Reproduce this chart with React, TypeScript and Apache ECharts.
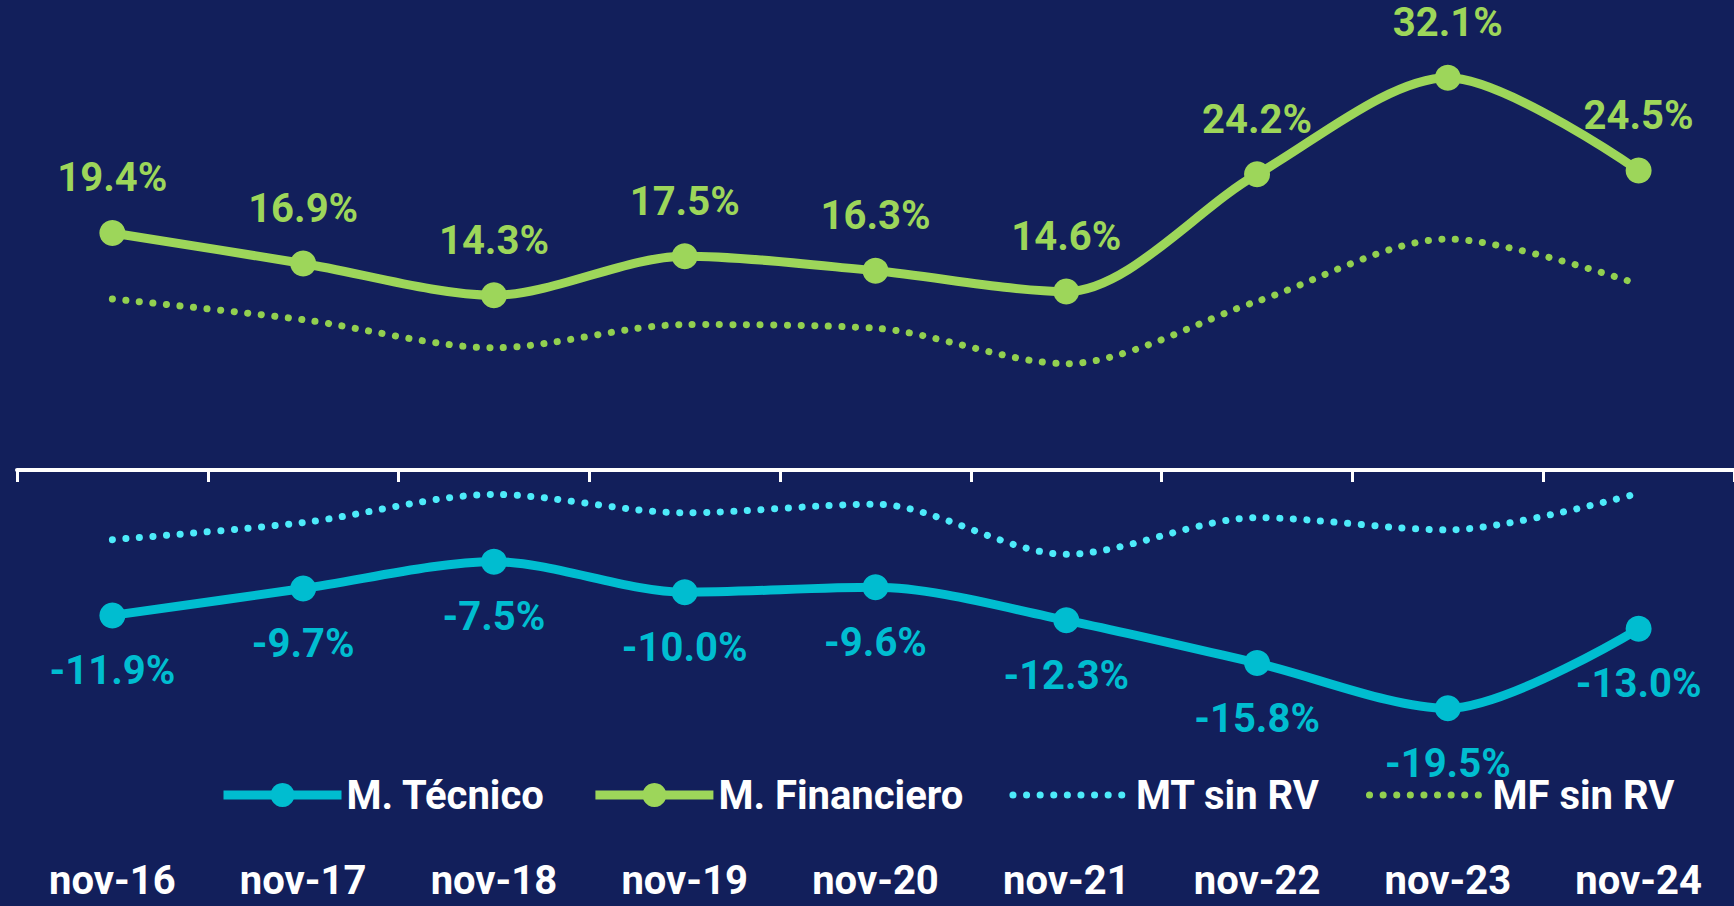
import React, { useEffect, useRef } from "react";
import * as echarts from "echarts";

const categories = ["nov-16", "nov-17", "nov-18", "nov-19", "nov-20", "nov-21", "nov-22", "nov-23", "nov-24"];
const mTecnico = [-11.9, -9.7, -7.5, -10.0, -9.6, -12.3, -15.8, -19.5, -13.0];
const mFinanciero = [19.4, 16.9, 14.3, 17.5, 16.3, 14.6, 24.2, 32.1, 24.5];
const mtSinRV = [-5.7, -4.3, -2.0, -3.5, -2.8, -6.9, -3.9, -4.9, -1.9];
const mfSinRV = [14.0, 12.3, 10.0, 11.9, 11.6, 8.7, 13.8, 18.9, 15.2];

const BG = "#121f5b";
const CYAN = "#00bdd0";
const GREEN = "#9dd65a";
const CYAN_LIGHT = "#4debfa";
const GREEN_DOT = "#92d050";
const FONT = "Roboto";

export default function App() {
  const ref = useRef<HTMLDivElement>(null);
  useEffect(() => {
    if (!ref.current) return;
    const chart = echarts.init(ref.current, undefined, { renderer: "svg" });
    const pct = (p: any) => Number(p.value).toFixed(1) + "%";
    const hiddenSymbol = { color: "rgba(0,0,0,0)", borderWidth: 0, opacity: 0 };
    chart.setOption({
      animation: false,
      backgroundColor: BG,
      grid: { left: 17, right: 0, top: 42.3, bottom: 69.4, containLabel: false },
      legend: {
        left: 214,
        top: 770,
        itemWidth: 118,
        itemHeight: 30,
        itemGap: 46,
        lineStyle: { width: "inherit" },
        textStyle: { color: "#ffffff", fontFamily: FONT, fontWeight: "bold", fontSize: 40 },
        data: [
          { name: "M. Técnico" },
          { name: "M. Financiero" },
          { name: "MT sin RV", itemStyle: hiddenSymbol },
          { name: "MF sin RV", itemStyle: hiddenSymbol },
        ],
      },
      xAxis: [
        {
          type: "category",
          data: categories,
          boundaryGap: true,
          axisLine: { show: true, onZero: true, lineStyle: { color: "#ffffff", width: 4 } },
          axisTick: { show: true, length: 12, lineStyle: { color: "#ffffff", width: 3 } },
          axisLabel: { show: false },
          splitLine: { show: false },
        },
        {
          type: "category",
          data: categories,
          position: "bottom",
          boundaryGap: true,
          axisLine: { show: false, onZero: false },
          axisTick: { show: false },
          axisLabel: {
            show: true,
            margin: 24,
            color: "#ffffff",
            fontFamily: FONT,
            fontWeight: "bold",
            fontSize: 40,
          },
          splitLine: { show: false },
        },
      ],
      yAxis: {
        type: "value",
        min: -30,
        max: 35,
        show: false,
        splitLine: { show: false },
      },
      series: [
        {
          name: "MT sin RV",
          type: "line",
          data: mtSinRV,
          smooth: 0.3,
          symbol: "none",
          itemStyle: { color: CYAN_LIGHT },
          lineStyle: { color: CYAN_LIGHT, width: 7, type: [0.1, 13.5], cap: "round" },
          z: 2,
        },
        {
          name: "MF sin RV",
          type: "line",
          data: mfSinRV,
          smooth: 0.3,
          symbol: "none",
          itemStyle: { color: GREEN_DOT },
          lineStyle: { color: GREEN_DOT, width: 7, type: [0.1, 13.5], cap: "round" },
          z: 2,
        },
        {
          name: "M. Técnico",
          type: "line",
          data: mTecnico,
          smooth: 0.3,
          symbol: "circle",
          symbolSize: 26,
          itemStyle: { color: CYAN },
          lineStyle: { color: CYAN, width: 9 },
          label: {
            show: true,
            position: "bottom",
            distance: 22,
            formatter: pct,
            color: CYAN,
            fontFamily: FONT,
            fontWeight: "bold",
            fontSize: 40,
          },
          z: 3,
        },
        {
          name: "M. Financiero",
          type: "line",
          data: mFinanciero,
          smooth: 0.3,
          symbol: "circle",
          symbolSize: 26,
          itemStyle: { color: GREEN },
          lineStyle: { color: GREEN, width: 9 },
          label: {
            show: true,
            position: "top",
            distance: 22,
            formatter: pct,
            color: GREEN,
            fontFamily: FONT,
            fontWeight: "bold",
            fontSize: 40,
          },
          z: 3,
        },
      ],
    });
    return () => chart.dispose();
  }, []);
  return (
    <div
      ref={ref}
      style={{ position: "fixed", left: 0, top: 0, width: 1734, height: 906 }}
    />
  );
}
